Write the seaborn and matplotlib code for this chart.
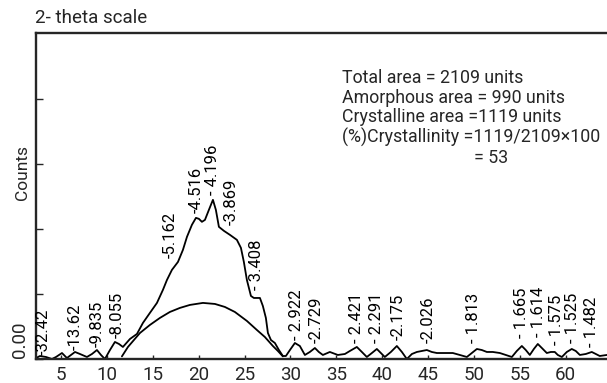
import matplotlib
matplotlib.use("Agg")
import matplotlib.pyplot as plt
import seaborn as sns
import pandas as pd

# ---- data ----
two_theta = [2.28, 2.71, 3.37, 4.02, 4.46, 5.11, 5.65, 6.53, 7.07, 7.83, 8.38, 8.92, 9.36, 9.79,
             10.34, 10.88, 11.32, 11.75, 12.52, 13.28, 13.93, 14.69, 15.46, 16.11, 16.55, 17.09,
             17.75, 18.29, 18.73, 19.27, 19.71, 20.03, 20.36, 20.69, 21.12, 21.56, 21.88, 22.21,
             22.76, 23.41, 24.17, 24.61, 24.93, 25.26, 25.48, 25.70, 26.02, 26.68, 27.00, 27.33,
             27.55, 27.88, 28.31, 28.75, 29.18, 29.51, 29.95, 30.49, 31.03, 31.58, 32.12, 32.67,
             33.10, 33.54, 34.30, 35.17, 35.94, 36.48, 37.24, 37.79, 38.33, 38.88, 39.42, 39.86,
             40.29, 40.95, 41.60, 42.15, 42.69, 43.24, 43.78, 44.32, 44.87, 45.41, 45.96, 47.05,
             47.70, 48.46, 49.23, 49.77, 50.32, 50.86, 51.41, 52.06, 52.82, 53.47, 54.13, 54.67,
             55.22, 55.65, 56.09, 56.53, 56.96, 57.40, 57.94, 58.38, 58.81, 59.14, 59.58, 60.12,
             60.66, 61.10, 61.54, 62.19, 62.84, 63.28, 63.71, 64.48]
counts = [1.5, 4.6, 3.1, 0, 3.1, 9.2, 1.5, 10.8, 7.7, 3.1, 7.7, 13.8, 6.2, 0,
          13.8, 26.2, 23.1, 18.5, 30.8, 38.5, 55.4, 70.8, 86.2, 106.2, 121.5, 136.9,
          149.2, 167.7, 187.7, 206.2, 216.9, 215.4, 210.8, 213.8, 229.2, 244.6, 229.2, 203.1,
          196.9, 190.8, 183.1, 170.8, 149.2, 121.5, 109.2, 96.9, 93.8, 93.8, 81.5, 63.1,
          40.0, 29.2, 24.6, 13.8, 4.6, 4.6, 13.8, 24.6, 20.0, 6.2, 10.8, 16.9,
          10.8, 6.2, 10.8, 6.2, 7.7, 12.3, 18.5, 10.8, 3.1, 9.2, 15.4, 9.2,
          3.1, 10.8, 20.0, 10.8, 0, 7.7, 10.8, 12.3, 13.8, 10.8, 9.2, 9.2,
          9.2, 6.2, 3.1, 9.2, 15.4, 13.8, 10.8, 10.8, 9.2, 6.2, 3.1, 12.3,
          20.0, 13.8, 6.2, 15.4, 23.1, 16.9, 9.2, 10.8, 10.8, 6.2, 3.1, 10.8,
          15.4, 12.3, 6.2, 7.7, 10.8, 7.7, 4.6, 6.2]

amorph_theta = [11.64, 12.30, 12.95, 13.61, 14.69, 15.78, 16.87, 17.96, 19.05, 20.47, 21.78,
                22.86, 23.95, 25.26, 26.35, 27.22, 28.09, 28.64, 29.18, 11.64]
amorph_counts = [4.0, 18.5, 29.2, 40.0, 52.3, 63.1, 72.3, 78.5, 83.1, 86.2, 84.6,
                 80.0, 72.3, 58.5, 44.6, 33.8, 20.0, 12.3, 4.0, 4.0]

peak_labels = ["-32.42", "-13.62", "-9.835", "-8.055", "-5.162", "-4.516", "- 4.196", "-3.869",
               "- 3.408", "- 2.922", "-2.729", "- 2.421", "- 2.291", "-2.175", "-2.026",
               "- 1.813", "- 1.665", "- 1.614", "- 1.575", "- 1.525", "- 1.482"]
peak_theta = [3.05, 6.53, 8.92, 11.10, 16.87, 19.71, 21.56, 23.52, 26.35, 30.71, 32.78,
              37.24, 39.42, 41.71, 44.98, 49.99, 55.22, 57.07, 59.03, 60.77, 62.84]
peak_label_base = [6.2, 13.8, 18.5, 32.3, 155.4, 224.6, 252.3, 206.2, 106.2, 29.2, 24.6,
                   24.6, 24.6, 29.2, 24.6, 24.6, 32.3, 33.8, 21.5, 24.6, 18.5]

x_ticks = [5, 10, 15, 20, 25, 30, 35, 40, 45, 50, 55, 60]
y_ticks = [0, 100, 200, 300, 400]

info_lines = ["Total area = 2109 units", "Amorphous area = 990 units",
              "Crystalline area =1119 units", "(%)Crystallinity =1119/2109\u00d7100"]
info_last = "= 53"

# ---- drawing ----
sns.set_style("ticks")
plt.rcParams["font.family"] = ["Roboto", "DejaVu Sans"]

fig = plt.figure(figsize=(6.07, 3.83), dpi=100)
ax = fig.add_axes([36 / 607, 1 - 359 / 383, 1 - 36 / 607, (359 - 33) / 383])

df = pd.DataFrame({"theta": two_theta, "counts": counts})
sns.lineplot(data=df, x="theta", y="counts", sort=False, color="black", lw=1.3, ax=ax)
dfa = pd.DataFrame({"theta": amorph_theta, "counts": amorph_counts})
sns.lineplot(data=dfa, x="theta", y="counts", sort=False, color="black", lw=1.3, ax=ax)

for t, x, y in zip(peak_labels, peak_theta, peak_label_base):
    ax.text(x, y, t, rotation=90, ha="center", va="bottom", fontsize=12, color="black")

ax.set_xlim(2.28, 64.5)
ax.set_ylim(0, 501)
ax.set_xticks(x_ticks)
ax.set_xticklabels([str(v) for v in x_ticks], fontsize=13.5)
ax.set_yticks(y_ticks)
ax.set_yticklabels([])
ax.tick_params(axis="x", direction="in", length=3, width=1, pad=5)
ax.tick_params(axis="y", direction="in", length=5, width=1)
ax.set_xlabel("")
ax.set_ylabel("")

for s in ["left", "top", "bottom"]:
    ax.spines[s].set_linewidth(1.7)
    ax.spines[s].set_visible(True)
ax.spines["right"].set_visible(False)

fig.text(35 / 607, 1 - 18 / 383, "2- theta scale", fontsize=13.5, ha="left", va="center")
fig.text(23 / 607, 1 - 172 / 383, "Counts", fontsize=12.5, rotation=90, ha="center", va="center")
fig.text(20 / 607, 1 - 340 / 383, "0.00", fontsize=13.5, rotation=90, ha="center", va="center")

ys = [78, 98, 117, 137]
for line, yy in zip(info_lines, ys):
    fig.text(342 / 607, 1 - yy / 383, line, fontsize=12.8, ha="left", va="center")
fig.text(474 / 607, 1 - 158 / 383, info_last, fontsize=12.8, ha="left", va="center")

fig.savefig("out.png", dpi=100)
